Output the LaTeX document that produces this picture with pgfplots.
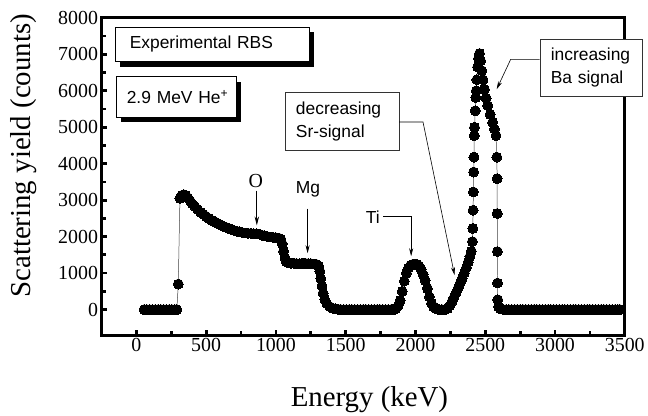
\documentclass[border=0pt]{standalone}
\usepackage{pgfplots}
\pgfplotsset{compat=1.18}
\usepackage{fontspec}
\setmainfont{Liberation Serif}
\newfontfamily\arial{Liberation Sans}
\usetikzlibrary{shadows,arrows.meta}
\begin{document}
\begin{tikzpicture}
\begin{axis}[
  scale only axis, width=526pt, height=319pt,
  xmin=-250, xmax=3500, ymin=-700, ymax=8000,
  xtick={0,500,...,3500}, ytick={0,1000,...,8000},
  minor x tick num=1, minor y tick num=1,
  xtick pos=bottom, ytick pos=left,
  tick align=inside,
  major tick length=5.5pt, minor tick length=4.5pt,
  every tick/.style={black, line width=2.8pt},
  axis line style={line width=3.2pt},
  /pgf/number format/assume math mode=true,
  /pgf/number format/1000 sep={},
  tick label style={font=\fontsize{20}{22}\selectfont},
  xlabel={Energy (keV)}, ylabel={Scattering yield (counts)},
  label style={font=\fontsize{29}{32}\selectfont},
  xlabel style={at={(axis description cs:0.512,-0.202)}, anchor=center},
  ylabel style={at={(axis description cs:-0.149,0.565)}, anchor=center},
  clip=false,
]
\addplot[black!75, line width=0.5pt, mark=*, mark size=5pt, mark options={fill=black, draw=black, line width=0pt}] coordinates {
(55,0)(75,0)(95,0)(115,0)(135,0)(155,0)(175,0)(195,0)(215,0)(235,0)(255,0)(275,0)(290,0)
(300,700)
(312,3050)(325,3130)(340,3150)(355,3130)(370,3060)(385,2980)(400,2900)(420,2820)(440,2740)(460,2670)(480,2610)(500,2550)(520,2500)(540,2450)(560,2410)(580,2370)(600,2330)(620,2290)(640,2260)(660,2230)(680,2200)(700,2170)(720,2150)(740,2130)(760,2110)(780,2100)(800,2090)(820,2090)(840,2080)(860,2080)(880,2070)(900,2040)(920,2020)(940,2000)(960,1990)(980,1980)(1000,1970)(1020,1960)(1035,1930)(1045,1800)(1055,1600)(1065,1420)(1075,1310)(1090,1280)(1110,1270)(1130,1270)(1150,1260)(1170,1260)(1190,1270)(1210,1270)(1230,1260)(1250,1260)(1270,1250)(1290,1240)(1305,1200)(1315,1050)(1322,850)(1330,650)(1338,450)(1350,280)(1365,160)(1385,80)(1405,40)(1425,20)(1445,10)
(1465,0)(1485,0)(1505,0)(1525,0)(1545,0)(1565,0)(1585,0)(1605,0)(1625,0)(1645,0)(1665,0)(1685,0)(1705,0)(1725,0)(1745,0)(1765,0)(1785,0)(1805,0)(1825,0)(1845,0)
(1860,30)(1875,100)(1890,250)(1905,500)(1920,780)(1935,1000)(1950,1140)(1965,1210)(1980,1240)(1995,1250)(2010,1240)(2025,1200)(2040,1100)(2055,960)(2070,800)(2085,580)(2100,350)(2115,170)(2130,70)(2150,20)(2170,0)(2190,0)(2210,0)(2230,30)
(2245,100)(2260,200)(2275,320)(2290,450)(2305,580)(2320,720)(2335,860)(2350,1000)(2365,1150)(2378,1300)(2390,1450)(2400,1600)
(2408,1864)(2411,2226)(2413,2725)(2415,3224)(2417,3771)(2419,4180)(2421,4768)(2423,4997)(2428,5450)(2432,5815)(2436,6000)(2440,6300)(2445,6650)(2451,6880)(2459,7020)(2467,6820)(2475,6550)(2484,6300)(2494,6040)(2506,5800)(2518,5590)(2535,5350)(2553,5130)(2566,4950)(2577,4770)(2583,4180)(2585,3590)(2586,2635)(2587,1591)(2588,728)(2589,272)(2595,80)(2610,20)
(2630,0)(2650,0)(2670,0)(2690,0)(2710,0)(2730,0)(2750,0)(2770,0)(2790,0)(2810,0)(2830,0)(2850,0)(2870,0)(2890,0)(2910,0)(2930,0)(2950,0)(2970,0)(2990,0)(3010,0)(3030,0)(3050,0)(3070,0)(3090,0)(3110,0)(3130,0)(3150,0)(3170,0)(3190,0)(3210,0)(3230,0)(3250,0)(3270,0)(3290,0)(3310,0)(3330,0)(3350,0)(3370,0)(3390,0)(3410,0)(3430,0)(3450,0)(3465,0)
};
% boxes
\node[draw, line width=0.8pt, fill=white, drop shadow={shadow xshift=4.5pt, shadow yshift=-5pt, opacity=1, fill=black}, anchor=north west, text width=167pt, inner xsep=14pt, inner ysep=0pt, minimum height=35pt, align=left, font=\arial\fontsize{17.5}{20}\selectfont] at (axis cs:-150,7757) {Experimental RBS};
\node[draw, line width=0.8pt, fill=white, drop shadow={shadow xshift=4.5pt, shadow yshift=-5pt, opacity=1, fill=black}, anchor=north west, text width=108pt, inner xsep=6pt, inner ysep=0pt, minimum height=41pt, align=left, font=\arial\fontsize{17.5}{20}\selectfont] at (axis cs:-143,6395) {\hspace*{4pt}2.9~MeV~He\textsuperscript{+}};
\node[draw=black!80, line width=0.6pt, fill=white, anchor=north west, text width=93pt, inner xsep=11pt, inner ysep=0pt, minimum height=58pt, align=left, font=\arial\fontsize{17.5}{23}\selectfont] at (axis cs:1063,5959) {decreasing\\Sr-signal};
\node[draw=black!80, line width=0.6pt, fill=white, anchor=north west, text width=81pt, inner xsep=11pt, inner ysep=0pt, minimum height=58pt, align=left, font=\arial\fontsize{17.5}{23}\selectfont] at (axis cs:2889,7431) {increasing\\Ba signal};
% leaders
\draw[line width=0.6pt, -{Stealth[length=8pt,width=4pt]}] (axis cs:1883,5142) -- (axis cs:2054,5142) -- (axis cs:2280,946);
\draw[line width=0.6pt, -{Stealth[length=8pt,width=4pt]}] (axis cs:2889,6858) -- (axis cs:2682,6858) -- (axis cs:2582,6041);
\node[font=\fontsize{20}{22}\selectfont] at (axis cs:856,3534) {O};
\draw[line width=0.8pt, -{Stealth[length=9pt,width=4.5pt]}] (axis cs:863,3262) -- (axis cs:863,2308);
\node[font=\arial\fontsize{17.5}{20}\selectfont] at (axis cs:1230,3289) {Mg};
\draw[line width=0.6pt, -{Stealth[length=8pt,width=4pt]}] (axis cs:1227,2771) -- (axis cs:1227,1545);
\node[font=\arial\fontsize{17.5}{20}\selectfont] at (axis cs:1694,2540) {Ti};
\draw[line width=0.6pt, -{Stealth[length=8pt,width=4pt]}] (axis cs:1769,2548) -- (axis cs:1969,2548) -- (axis cs:1969,1463);
\path (rel axis cs:-0.194,-0.252) rectangle (rel axis cs:1.038,1.056);
\end{axis}
\end{tikzpicture}
\end{document}
